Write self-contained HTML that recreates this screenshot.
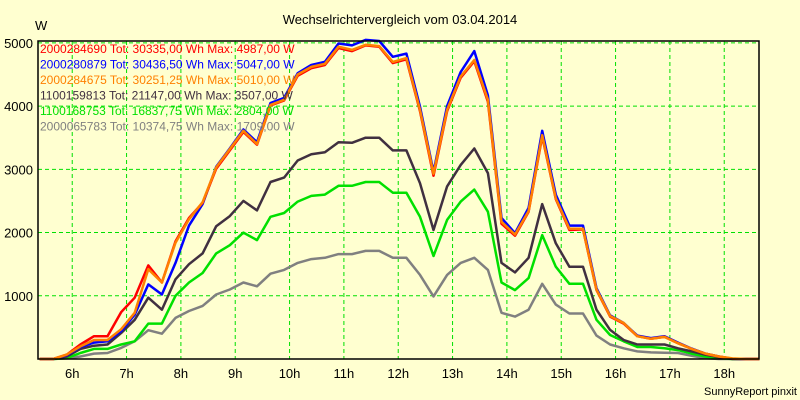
<!DOCTYPE html>
<html><head><meta charset="utf-8"><style>
html,body{margin:0;padding:0;background:#FFFFD0;}
svg{display:block;font-family:"Liberation Sans",sans-serif;}
</style></head><body>
<svg id="chart" width="800" height="400">
<rect x="0" y="0" width="800" height="400" fill="#FFFFD0"/>
<text x="400" y="24" text-anchor="middle" font-size="13" fill="#000">Wechselrichtervergleich vom 03.04.2014</text>
<text x="35" y="30" font-size="13" fill="#000">W</text>
<text x="797" y="395" text-anchor="end" font-size="11" fill="#000">SunnyReport pinxit</text>
<g id="grid"></g><g id="series"></g><g id="axes"></g><g id="legend"></g>
</svg>
<script>
const times=[5.4,5.65,5.9,6.15,6.4,6.65,6.9,7.15,7.4,7.65,7.9,8.15,8.4,8.65,8.9,9.15,9.4,9.65,9.9,10.15,10.4,10.65,10.9,11.15,11.4,11.65,11.9,12.15,12.4,12.65,12.9,13.15,13.4,13.65,13.9,14.15,14.4,14.65,14.9,15.15,15.4,15.65,15.9,16.15,16.4,16.65,16.9,17.15,17.4,17.65,17.9,18.15,18.4,18.65];
const red=[0,0,70,230,360,360,740,970,1480,1210,1860,2230,2470,3010,3300,3590,3390,4010,4090,4480,4600,4650,4920,4870,4960,4940,4680,4740,3920,2900,3920,4450,4710,4070,2140,1950,2330,3520,2530,2040,2050,1090,670,560,360,320,350,250,160,85,40,5,0,0];
const blue=[0,0,60,190,260,280,440,700,1180,1020,1520,2110,2450,3040,3330,3630,3430,4050,4130,4520,4650,4700,4990,4960,5047,5030,4780,4830,3990,2960,4000,4540,4870,4170,2230,1990,2390,3610,2600,2110,2110,1120,690,570,370,330,360,260,165,85,40,5,0,0];
const orange=[0,0,70,200,300,300,470,730,1420,1210,1840,2210,2480,3030,3320,3610,3400,4020,4100,4500,4620,4670,4940,4890,4970,4950,4700,4760,3940,2930,3940,4470,4730,4100,2170,1970,2340,3540,2540,2060,2060,1100,680,570,360,320,350,250,160,85,40,10,0,0];
const dark=[0,0,40,160,210,230,410,620,970,780,1260,1500,1670,2100,2260,2500,2350,2800,2870,3140,3240,3270,3430,3420,3500,3500,3300,3300,2780,2040,2730,3070,3330,2940,1520,1370,1600,2450,1830,1460,1460,780,460,300,230,230,230,170,120,70,30,0,0,0];
const green=[0,0,15,95,160,160,230,280,560,560,1000,1210,1360,1670,1800,2000,1880,2250,2310,2490,2580,2600,2740,2740,2800,2800,2630,2630,2250,1630,2200,2490,2680,2330,1210,1090,1280,1960,1460,1190,1190,620,380,280,190,190,170,140,85,40,15,0,0,0];
const gray=[0,0,10,40,85,95,175,280,455,400,650,760,840,1020,1100,1210,1150,1350,1410,1520,1580,1600,1660,1660,1710,1710,1600,1600,1330,990,1330,1520,1600,1410,730,670,780,1190,860,720,720,370,230,170,120,105,100,95,50,15,0,0,0,0];
const seriesNames=["2000284690","2000280879","2000284675","1100159813","1100168753","2000065783"];
const seriesTotals=["30335,00","30436,50","30251,25","21147,00","16837,75","10374,75"];
const seriesMax=["4987,00","5047,00","5010,00","3507,00","2804,00","1709,00"];
const yTicks=[1000,2000,3000,4000,5000];
const xTicks=[6,7,8,9,10,11,12,13,14,15,16,17,18];

const L=38,R=759,T=41,B=359;
const xMin=5.37,xMax=18.64,yMax=5030;
const xs=t=>L+(t-xMin)/(xMax-xMin)*(R-L);
const ys=v=>B-v/yMax*(B-T);
const NS="http://www.w3.org/2000/svg";
function mk(tag,parent,attrs){const e=document.createElementNS(NS,tag);for(const k in attrs)e.setAttribute(k,attrs[k]);parent.appendChild(e);return e;}
const grid=document.getElementById('grid'),axes=document.getElementById('axes'),ser=document.getElementById('series'),leg=document.getElementById('legend');
mk('rect',grid,{x:L,y:T,width:R-L,height:B-T,fill:'#FFFFD0'});
yTicks.forEach(v=>{
  const g=mk('line',grid,{x1:L,x2:R,y1:ys(v),y2:ys(v),stroke:'#00E000','stroke-dasharray':'4,3','stroke-width':1});
  
  
  const t=mk('text',axes,{x:33,y:ys(v)+5,'text-anchor':'end','font-size':13,fill:'#000'});
  t.textContent=v;
  
  
});
xTicks.forEach(h=>{
  const g=mk('line',grid,{x1:xs(h),x2:xs(h),y1:T,y2:B,stroke:'#00E000','stroke-dasharray':'4,3','stroke-width':1});
  
  
  const t=mk('text',axes,{x:xs(h),y:378,'text-anchor':'middle','font-size':13,fill:'#000'});
  t.textContent=h+'h';
  
  
});
const fr=mk('rect',axes,{x:L,y:T,width:R-L,height:B-T,fill:'none',stroke:'#000','stroke-width':1.5});


const data=[gray,green,dark,blue,red,orange];
const cols=['#808080','#00E000','#403040','#0000FF','#FF0000','#FF8000'];
const names=['series-2000065783','series-1100168753','series-1100159813','series-2000280879','series-2000284690','series-2000284675'];
data.forEach((arr,i)=>{
  const p=mk('polyline',ser,{points:arr.map((v,j)=>xs(times[j]).toFixed(1)+','+ys(v).toFixed(1)).join(' '),fill:'none',stroke:cols[i],'stroke-width':2.5,'stroke-linejoin':'round'});
  
  
});
const legCols=['#FF0000','#0000FF','#FF8000','#403040','#00E000','#808080'];
seriesNames.forEach((n,i)=>{
  const t=mk('text',leg,{x:40,y:53+i*15.5,'font-size':12,fill:legCols[i]});
  t.textContent=n+' Tot: '+seriesTotals[i]+' Wh Max: '+seriesMax[i]+' W';
  
  
});
</script>
</body></html>
